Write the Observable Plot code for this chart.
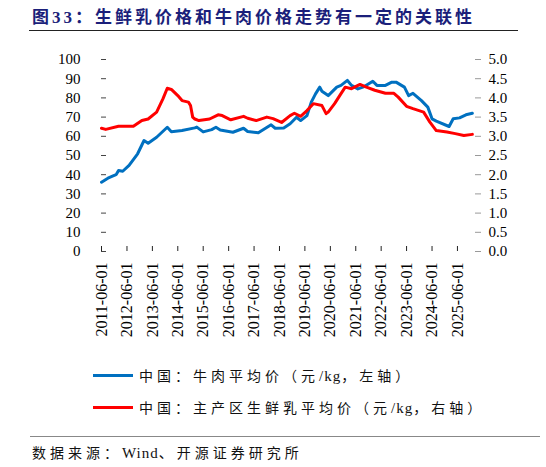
<!DOCTYPE html>
<html>
<head>
<meta charset="utf-8">
<script src="https://cdn.jsdelivr.net/npm/d3@7"></script>
<script src="https://cdn.jsdelivr.net/npm/@observablehq/plot@0.6"></script>
<style>
  html, body { margin: 0; padding: 0; background: #fff; }
  #page { position: relative; width: 546px; height: 467px; overflow: hidden; font-family: "Liberation Serif", "Noto Sans CJK SC", serif; }
  #title { position: absolute; left: 32px; top: 3px; font-size: 17px; font-weight: bold; color: #1b1f7a; letter-spacing: 3px; white-space: nowrap; }
  #title-rule { position: absolute; left: 29px; top: 30px; width: 489px; height: 0; border-top: 1.5px solid #222; }
  #chart { position: absolute; left: 0; top: 40px; }
  .legend-row { position: absolute; left: 93px; height: 20px; display: flex; align-items: center; font-size: 14px; color: #111; letter-spacing: 4px; white-space: nowrap; }
  .legend-swatch { width: 40px; height: 3px; margin-right: 6px; }
  .latin { letter-spacing: 1px; font-size: 15px; }
  #source-rule { position: absolute; left: 30px; top: 436px; width: 510px; height: 0; border-top: 1.5px solid #888; }
  #source { position: absolute; left: 32px; top: 442px; font-size: 14px; color: #111; letter-spacing: 4px; white-space: nowrap; }
</style>
</head>
<body>
<div id="page">
  <div id="title">图33：生鲜乳价格和牛肉价格走势有一定的关联性</div>
  <div id="title-rule"></div>
  <div id="chart"></div>
  <div class="legend-row" style="top:365px"><div class="legend-swatch" style="background:#0070c0"></div><span>中国：牛肉平均价（元<span class="latin">/kg</span>，左轴）</span></div>
  <div class="legend-row" style="top:397px"><div class="legend-swatch" style="background:#ff0000"></div><span>中国：主产区生鲜乳平均价（元<span class="latin">/kg</span>，右轴）</span></div>
  <div id="source-rule"></div>
  <div id="source">数据来源：<span class="latin">Wind</span>、开源证券研究所</div>
</div>
<script>
// China average beef price, yuan/kg (left axis)
const beefMonths = ["2011-06","2011-09","2011-12","2012-01","2012-02","2012-04","2012-07","2012-11","2013-02","2013-04","2013-08","2014-01","2014-03","2014-08","2015-02","2015-03","2015-06","2015-10","2015-12","2016-02","2016-08","2017-01","2017-03","2017-08","2018-02","2018-04","2018-08","2018-11","2019-02","2019-04","2019-07","2019-09","2019-11","2020-01","2020-02","2020-05","2020-09","2020-11","2021-02","2021-04","2021-07","2021-10","2022-02","2022-04","2022-08","2022-11","2023-01","2023-05","2023-07","2023-09","2024-01","2024-04","2024-06","2024-08","2025-02","2025-04","2025-07","2025-10","2026-01"];
const beefPrice = [36.1,38.2,39.6,40.2,42.2,41.8,44.8,50.9,57.8,56.4,59.5,64.7,62.4,63.0,64.4,64.8,62.3,63.5,64.7,63.3,62.1,64.2,62.5,61.8,66.0,64.2,64.3,66.5,69.9,68.2,70.8,77.8,82.1,85.6,83.5,81.2,85.6,86.5,89.1,86.5,84.7,85.9,88.7,86.5,86.5,88.2,88.2,85.6,81.2,82.4,78.6,75.2,69.1,67.9,65.1,69.1,69.6,71.2,72.0];

// Average raw milk price in main producing areas, yuan/kg (right axis)
const milkMonths = ["2011-06","2011-08","2012-02","2012-09","2013-01","2013-04","2013-08","2013-11","2014-01","2014-03","2014-06","2014-08","2014-11","2014-12","2015-01","2015-02","2015-04","2015-09","2016-01","2016-03","2016-07","2017-01","2017-03","2017-07","2017-12","2018-03","2018-07","2018-11","2019-01","2019-04","2019-07","2019-10","2020-02","2020-04","2020-05","2020-08","2020-11","2021-01","2021-04","2021-08","2021-11","2022-03","2022-08","2022-12","2023-02","2023-06","2023-09","2024-02","2024-05","2024-08","2025-01","2025-05","2025-09","2026-01"];
const milkPrice = [3.21,3.18,3.26,3.26,3.41,3.45,3.63,3.98,4.25,4.22,4.06,3.93,3.89,3.80,3.50,3.45,3.41,3.45,3.56,3.54,3.43,3.52,3.47,3.41,3.50,3.46,3.36,3.54,3.60,3.52,3.67,3.85,3.80,3.59,3.63,3.85,4.11,4.28,4.24,4.35,4.28,4.20,4.12,4.12,4.02,3.78,3.72,3.63,3.37,3.15,3.11,3.07,3.02,3.05];

// Axis ticks
const leftTicks = [0,10,20,30,40,50,60,70,80,90,100];
const rightTickLabels = ["0.0","0.5","1.0","1.5","2.0","2.5","3.0","3.5","4.0","4.5","5.0"];
const xTickDates = ["2011-06-01","2012-06-01","2013-06-01","2014-06-01","2015-06-01","2016-06-01","2017-06-01","2018-06-01","2019-06-01","2020-06-01","2021-06-01","2022-06-01","2023-06-01","2024-06-01","2025-06-01"];

const parseMonth = d3.utcParse("%Y-%m");
const beef = beefMonths.map((m, i) => ({date: parseMonth(m), v: beefPrice[i]}));
const milk = milkMonths.map((m, i) => ({date: parseMonth(m), v: milkPrice[i]}));
// right axis (0–5) shares the left scale (0–100): 1 yuan/kg on the right = 20 on the left
const ratio = 100 / 5;

const chart = Plot.plot({
  width: 546,
  height: 315,
  marginLeft: 101,
  marginRight: 72,
  marginTop: 19,
  marginBottom: 104,
  style: {fontFamily: "Liberation Serif, serif", fontSize: "15px", color: "#000", background: "none", overflow: "visible"},
  x: {type: "utc", domain: [new Date("2011-06-01"), new Date("2026-02-01")]},
  y: {domain: [0, 100]},
  marks: [
    Plot.axisY({anchor: "left", ticks: leftTicks, tickSize: -5, tickPadding: 26, line: true, stroke: "#444", label: null, fontSize: 15}),
    Plot.axisY({anchor: "right", ticks: leftTicks, tickFormat: (d, i) => rightTickLabels[i], tickSize: 6, tickPadding: 8, line: true, stroke: "#999", label: null, fontSize: 15}),
    Plot.axisX({ticks: xTickDates.map(s => new Date(s)), tickFormat: d3.utcFormat("%Y-%m-%d"), tickRotate: -90, tickSize: -5, tickPadding: 16, line: true, stroke: "#222", label: null, fontSize: 16}),
    Plot.line(beef, {x: "date", y: "v", stroke: "#0070c0", strokeWidth: 3}),
    Plot.line(milk, {x: "date", y: d => d.v * ratio, stroke: "#ff0000", strokeWidth: 3})
  ]
});
document.getElementById("chart").appendChild(chart);
</script>
</body>
</html>
